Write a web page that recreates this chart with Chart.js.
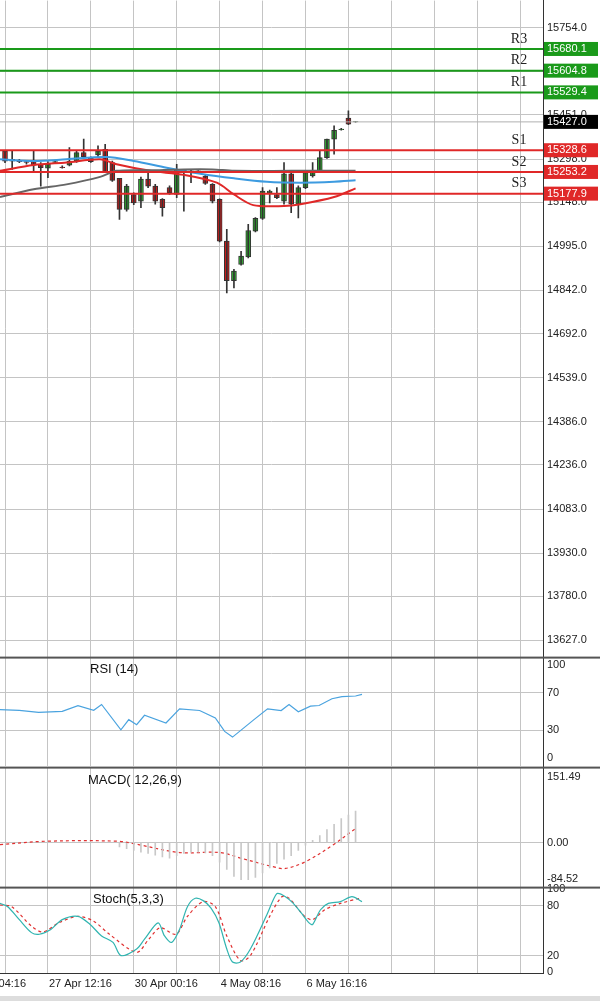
<!DOCTYPE html>
<html><head><meta charset="utf-8">
<script src="https://cdn.jsdelivr.net/npm/chart.js@4/dist/chart.umd.min.js"></script>
<style>
body{margin:0;background:#fff;width:600px;height:1001px;overflow:hidden;position:relative;font-family:"Liberation Sans",Arial,sans-serif}
.p{position:absolute;left:0;width:600px}
</style></head><body>
<div class="p" style="top:-10px;height:678px"><canvas id="main"></canvas></div>
<div class="p" style="top:647px;height:130px"><canvas id="rsi"></canvas></div>
<div class="p" style="top:757px;height:141px"><canvas id="macd"></canvas></div>
<div class="p" style="top:877px;height:124px"><canvas id="stoch"></canvas></div>
<script>
// candles [open, high, low, close]
const candles = [
 [15326,15326,15285,15291],[15297,15326,15262,15291],[15291,15297,15285,15289],[15289,15291,15280,15286],
 [15291,15326,15257,15277],[15280,15286,15204,15268],[15266,15289,15233,15280],[15286,15291,15283,15289],
 [15270,15274,15266,15268],[15277,15338,15274,15291],[15291,15326,15286,15320],[15320,15367,15303,15306],
 [15303,15306,15286,15289],[15312,15344,15306,15326],[15332,15349,15251,15251],[15286,15291,15220,15224],
 [15231,15231,15088,15123],[15123,15210,15117,15204],[15175,15181,15140,15146],[15152,15235,15129,15228],
 [15228,15251,15199,15204],[15204,15210,15141,15152],[15158,15161,15100,15129],[15199,15205,15175,15181],
 [15175,15280,15164,15262],[15262,15262,15117,15251],[15257,15260,15216,15254],[15257,15258,15250,15255],
 [15239,15245,15210,15213],[15210,15213,15146,15152],[15158,15160,15010,15013],[15013,15054,14833,14876],
 [14876,14915,14851,14909],[14932,14978,14930,14961],[14958,15071,14955,15050],[15048,15095,15045,15092],
 [15092,15199,15088,15187],[15181,15190,15146,15187],[15175,15199,15160,15164],[15152,15286,15141,15247],
 [15247,15250,15112,15141],[15141,15205,15094,15199],[15199,15257,15195,15251],[15239,15286,15235,15257],
 [15257,15326,15255,15303],[15303,15367,15300,15367],[15367,15413,15315,15398],[15400,15405,15398,15402],
 [15440,15465,15417,15419],[15427,15428,15426,15428]
];
const maBlueX = [-0.7,4,8.6,14.2,18,22.6,27.3,32,36.6,41.3,46,49];
const maBlueY = [15297,15291,15297,15305,15291,15268,15247,15231,15219,15216,15219,15224];
const maGrayX = [-0.7,4,8.6,13.3,15.6,20.3,25,29,32,40,49];
const maGrayY = [15166,15193,15210,15236,15257,15259,15262,15262,15257,15257,15257];
const maRedX = [-0.7,4,8.6,13.3,15.6,20.3,25,29.6,32,34.7,39,41.3,46,49];
const maRedY = [15257,15277,15286,15297,15280,15257,15243,15216,15175,15138,15135,15141,15166,15196];
const levelNames = ['R3','R2','R1','S1','S2','S3'];
const levelValues = [15680.1,15604.8,15529.4,15328.6,15253.2,15177.9];
const lastPrice = 15427.0;
const mainTicks = [15754,15601,15451,15298,15148,14995,14842,14692,14539,14386,14236,14083,13930,13780,13627];

const rsiX = [-0.7,2,4.7,8,10.2,12.4,13.5,16.2,17.3,18.4,19.5,22.5,24.4,27.2,29.4,30.7,31.8,34.8,36.7,38.6,39.7,41,42.7,43.9,45.7,47.1,49,49.9];
const rsiY = [52,51.3,49.1,50.2,56.3,51.3,57.6,30.4,41.3,35.9,46,37.7,52.9,51.1,43.1,28.6,22.5,41.3,52.9,51.1,57.6,49.8,55.8,56.5,63.8,66,66.7,68.5];
const rsiTicks = [0,30,70,100];

const macdHist = [-10,-14,-18,-22,-25,-29,-33,-36,-30,-25,-22,-22,-24,-30,-45,-62,-78,-85,-85,-80,-70,-58,-48,-38,-30,-18,-6,5,16,30,42,55,63,72];
const macdHistStart = 16;
const macdSigX = [-0.7,5.8,15.7,18.4,24.4,30,33.2,37.6,39.2,42,45.8,49];
const macdSigY = [-4.6,3,3,-4,-23,-23,-37,-56,-59.5,-44,-6,32];
const macdTicks = [-84.52,0,151.49];

const stMainX = [-0.7,0.38,2,3.7,4.8,6.4,8,10.2,11.9,13.5,15.1,16.2,18.4,19.5,21.4,22.3,23.3,24.4,25.5,26.6,27.7,28.8,29.9,31,31.8,32.9,34.3,36.5,37.6,38.1,39.2,40.3,41.4,42.5,43,44.1,45.2,46.9,48.5,49.9];
const stMainY = [83,79,63.4,47.7,45.7,51.6,63.4,67.3,57.5,43.7,35.9,20,27.9,39.8,59.5,43.7,35.9,51.6,79,89.1,86.3,77.3,59.5,27.9,12.2,12.2,27.9,67.3,89.1,95,91,83,71.4,59.5,57.5,75.3,83,85.1,91,85.1];
const stSigX = [-0.7,0.93,3.7,5.3,7.5,10.2,12.4,14.6,18.4,20.1,21.7,23.9,25.5,27.7,29.4,31,32.9,34.3,37,38.7,39.7,41.9,43,44.7,46.9,49.6];
const stSigY = [81,79,55.5,48.4,59.5,67.3,61.4,45.7,24,39.8,53.6,45.7,67.3,85.1,79,43.7,14.1,20,67.3,91,89.1,67.3,63.4,75.3,83,89.1];
const stTicks = [0,20,80,100];

const xLabels = ['25 Apr 04:16','27 Apr 12:16','30 Apr 00:16','4 May 08:16','6 May 16:16'];
const xLabelPos = [-6,6,18,30,42];

const XMIN = -0.7, XMAX = 75.2;
const FONT = {family:'"Liberation Sans", Arial, sans-serif', size:11};
const gridDash = {color:'#c4c4c4', borderDash:[3,3], lineWidth:1, drawTicks:false};
const pts = (xs, ys) => xs.map((x,i)=>({x, y:ys[i]}));

function xAxis(last){
  return {type:'linear', min:XMIN, max:XMAX, offset:false, grid:{...gridDash, offset:false}, border:{display:false},
    ticks:{display:false},
    afterBuildTicks: s => { s.ticks = []; for (let v=0; v<=72; v+=6) s.ticks.push({value:v}); },
    afterFit: s => { s.height = last ? 28 : 0; }};
}
function yAxis(min, max, ticks, fmt, gridVals){
  return {type:'linear', position:'right', min, max,
    grid:{...gridDash, color: c => (!gridVals || gridVals.includes(c.tick.value)) ? '#c4c4c4' : 'transparent'},
    border:{display:true, color:'#333', width:1},
    ticks:{color:'#222', font:FONT, padding:4, autoSkip:false, callback:fmt},
    afterBuildTicks: s => { s.ticks = ticks.map(v=>({value:v})); },
    afterFit: s => { s.width = 57; }};
}
const topBorder = {id:'topBorder', afterDraw(c){
  const g=c.ctx; g.save(); g.fillStyle='#555'; g.fillRect(0,c.chartArea.top-1,600,2); g.restore();
}};
function title(text, x, y){
  return {id:'title', afterDraw(c){
    const g=c.ctx; g.save(); g.font='13px "Liberation Sans", Arial'; g.fillStyle='#111';
    g.fillText(text, x, c.chartArea.top+y); g.restore();
  }};
}
const opts = () => ({responsive:true, maintainAspectRatio:false, animation:false,
  layout:{padding:0}, plugins:{legend:{display:false}, tooltip:{enabled:false}}});

// main
const up = c => c[3] >= c[0];
const levelPlugin = {id:'levels', afterDraw(c){
  const g=c.ctx, y=c.scales.y, a=c.chartArea;
  g.save(); g.textBaseline='middle';
  levelValues.forEach((v,i)=>{
    const py=y.getPixelForValue(v);
    g.fillStyle='#222'; g.font='14px "Liberation Serif", serif'; g.textAlign='center';
    g.fillText(levelNames[i], 519, py-10);
    g.font='11px "Liberation Sans", Arial'; g.textAlign='left';
    g.fillStyle = i<3 ? '#1a9a1a' : '#e02828';
    g.fillRect(a.right+1, py-7, 54, 14);
    g.fillStyle='#fff'; g.fillText(v.toFixed(1), a.right+4, py);
  });
  const py=y.getPixelForValue(lastPrice);
  g.fillStyle='#000'; g.fillRect(a.right+1, py-7, 54, 14);
  g.fillStyle='#fff'; g.fillText(lastPrice.toFixed(1), a.right+4, py);
  g.restore();
}};
const hline = (v, color, w) => ({type:'line', data:[{x:XMIN,y:v},{x:XMAX,y:v}], borderColor:color, borderWidth:w, pointRadius:0});
new Chart(document.getElementById('main'), {
  type:'bar',
  data:{datasets:[
    ...levelValues.map((v,i)=>hline(v, i<3 ? '#1a9a1a' : '#e02828', 2)),
    hline(lastPrice, '#b0b0b0', 1),
    {type:'line', data:pts(maGrayX,maGrayY), borderColor:'#666', borderWidth:2, pointRadius:0, tension:0.3},
    {type:'line', data:pts(maBlueX,maBlueY), borderColor:'#3d9be0', borderWidth:2, pointRadius:0, tension:0.3},
    {type:'line', data:pts(maRedX,maRedY), borderColor:'#e02828', borderWidth:2, pointRadius:0, tension:0.3},
    {data:candles.map((c,i)=>({x:i, y:[c[2],c[1]]})), backgroundColor:'#333', barThickness:1, grouped:false},
    {data:candles.map((c,i)=>({x:i, y:[c[0],c[3]]})), backgroundColor:candles.map(c=>up(c)?'#2fa82f':'#d21c1c'),
      borderColor:'#333', borderWidth:1, borderSkipped:false, barThickness:5, grouped:false}
  ]},
  options:{...opts(), scales:{x:xAxis(false), y:yAxis(13568,15848,mainTicks,v=>v.toFixed(1))}},
  plugins:[levelPlugin]
});

// RSI
new Chart(document.getElementById('rsi'), {
  type:'line',
  data:{datasets:[{data:pts(rsiX,rsiY), borderColor:'#4aa3df', borderWidth:1.2, pointRadius:0}]},
  options:{...opts(), scales:{x:xAxis(false), y:yAxis(-9,108,rsiTicks,v=>String(v),[30,70])}},
  plugins:[topBorder, title('RSI (14)', 90, 15)]
});

// MACD
new Chart(document.getElementById('macd'), {
  type:'bar',
  data:{datasets:[
    {data:macdHist.map((v,i)=>({x:macdHistStart+i, y:v})), backgroundColor:'#c8c8c8', barThickness:1, grouped:false},
    {type:'line', data:pts(macdSigX,macdSigY), borderColor:'#e03030', borderWidth:1.2, borderDash:[3,3], pointRadius:0, tension:0.35}
  ]},
  options:{...opts(), scales:{x:xAxis(false), y:yAxis(-103,172,macdTicks,v=>v.toFixed(2),[0])}},
  plugins:[topBorder, title('MACD( 12,26,9)', 88, 16)]
});

// Stoch
const xLabelPlugin = {id:'xl', afterDraw(c){
  const g=c.ctx, x=c.scales.x, a=c.chartArea;
  g.save(); g.font='11px "Liberation Sans", Arial'; g.fillStyle='#222'; g.textBaseline='middle';
  xLabels.forEach((t,i)=>g.fillText(t, x.getPixelForValue(xLabelPos[i])+1, a.bottom+11));
  g.fillStyle='#333'; g.fillRect(a.left, a.bottom, a.right-a.left, 1);
  g.fillStyle='#ddd'; g.fillRect(0, a.bottom+23, 600, 5);
  g.restore();
}};
new Chart(document.getElementById('stoch'), {
  type:'line',
  data:{datasets:[
    {data:pts(stMainX,stMainY), borderColor:'#30b4b0', borderWidth:1.2, pointRadius:0, tension:0.3},
    {data:pts(stSigX,stSigY), borderColor:'#e03030', borderWidth:1.2, borderDash:[3,3], pointRadius:0, tension:0.3}
  ]},
  options:{...opts(), scales:{x:xAxis(true), y:yAxis(-1,102,stTicks,v=>String(v),[20,80])}},
  plugins:[topBorder, title('Stoch(5,3,3)', 93, 15), xLabelPlugin]
});
</script>
</body></html>
